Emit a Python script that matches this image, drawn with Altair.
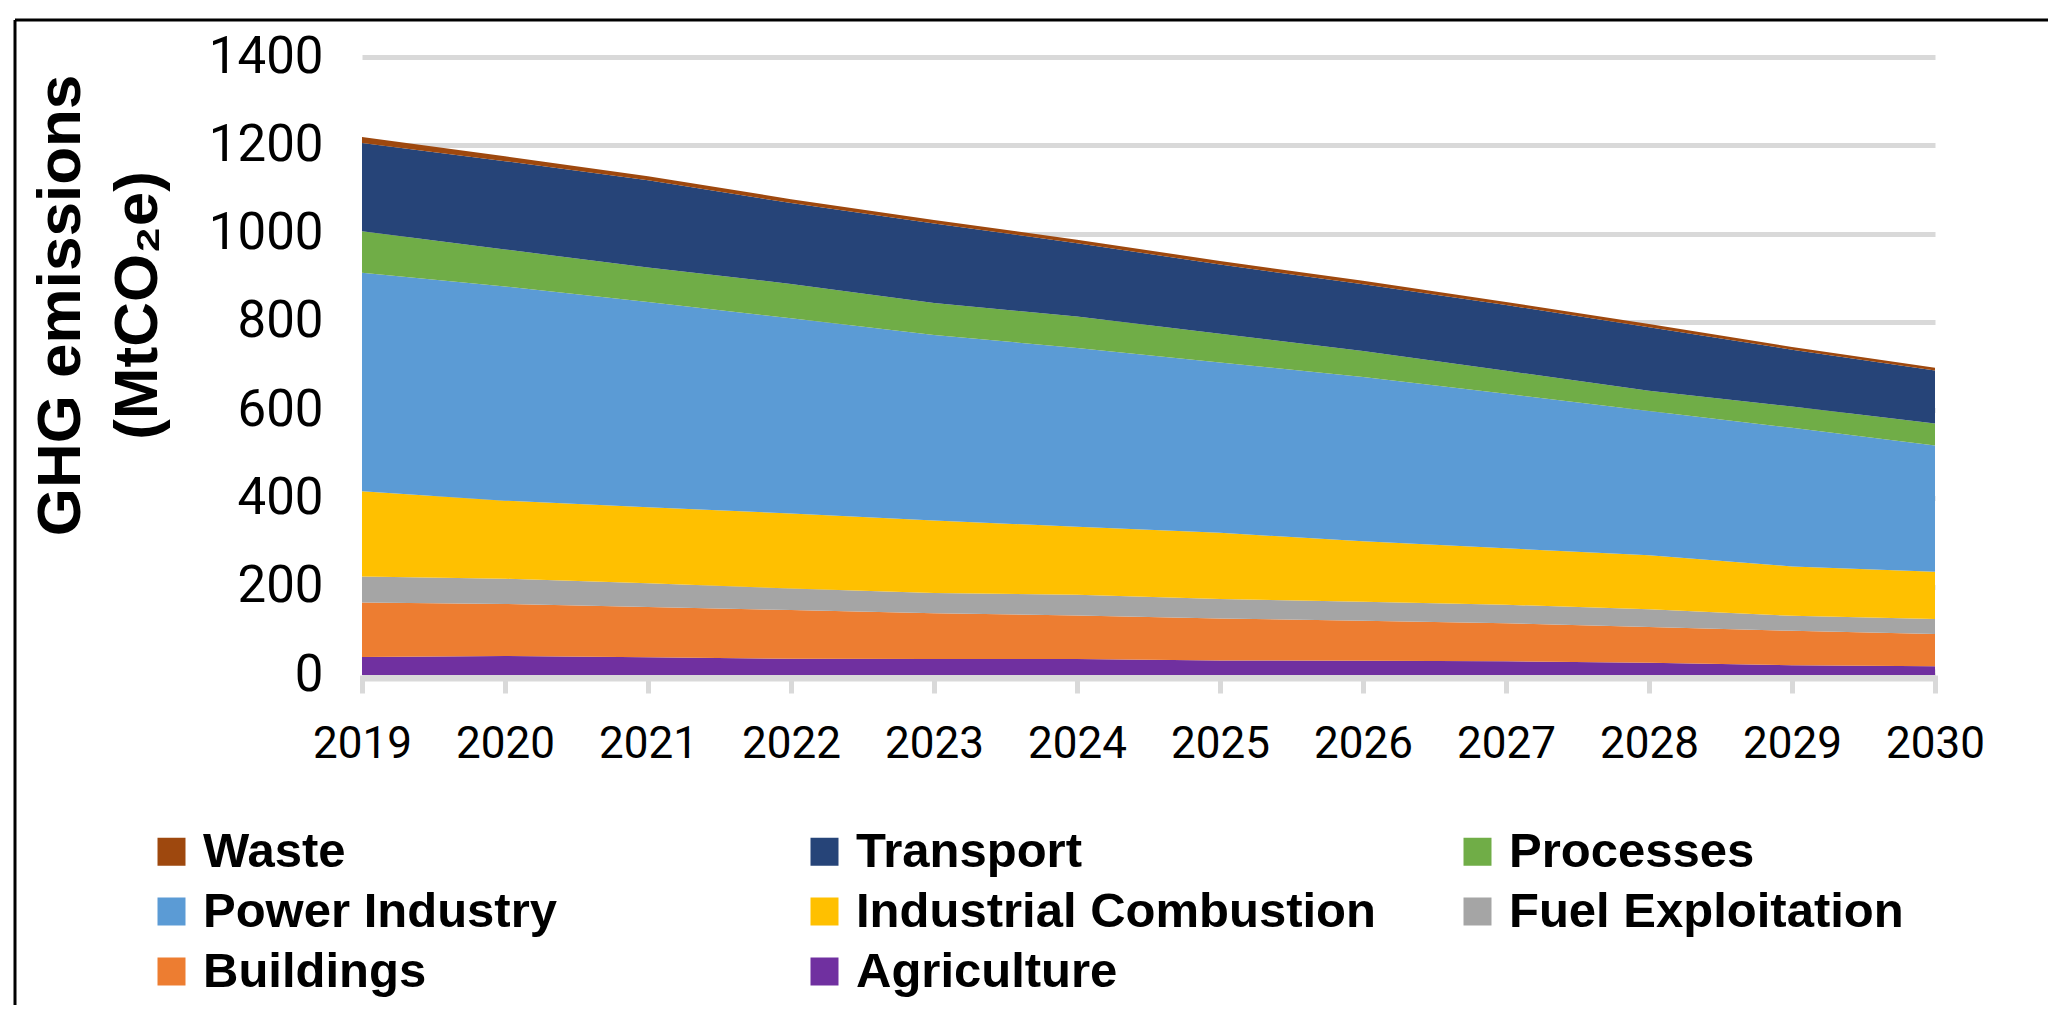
import altair as alt
import pandas as pd

years = [2019, 2020, 2021, 2022, 2023, 2024, 2025, 2026, 2027, 2028, 2029, 2030]

# legend order (as shown) and colours
sectors = ["Waste", "Transport", "Processes", "Power Industry",
           "Industrial Combustion", "Fuel Exploitation", "Buildings", "Agriculture"]
colors = ["#9E480E", "#264478", "#70AD47", "#5B9BD5",
          "#FFC000", "#A5A5A5", "#ED7D31", "#7030A0"]

# stacking order bottom -> top
stack_order = ["Agriculture", "Buildings", "Fuel Exploitation", "Industrial Combustion",
               "Power Industry", "Processes", "Transport", "Waste"]

agriculture = [41, 43, 40, 37, 36, 36, 33, 32, 31, 28, 22, 20]
buildings = [123, 118, 114, 110, 104, 99, 95, 91, 86, 81, 78, 73]
fuel_exploitation = [59, 57, 54, 49, 46, 47, 44, 43, 42, 40, 34, 34]
industrial_combustion = [193, 177, 172, 170, 164, 154, 150, 137, 128, 122, 112, 107]
power_industry = [495, 485, 465, 442, 420, 405, 386, 372, 350, 327, 314, 286]
processes = [94, 84, 78, 78, 73, 71, 65, 59, 52, 46, 48, 50]
transport = [200, 200, 198, 183, 180, 166, 157, 151, 149, 144, 129, 120]
waste = [14, 11, 9, 9, 8, 8, 8, 8, 7, 7, 6, 6]

series = {
    "Agriculture": agriculture,
    "Buildings": buildings,
    "Fuel Exploitation": fuel_exploitation,
    "Industrial Combustion": industrial_combustion,
    "Power Industry": power_industry,
    "Processes": processes,
    "Transport": transport,
    "Waste": waste,
}

rows = []
for name, vals in series.items():
    for y, v in zip(years, vals):
        rows.append({"year": y, "sector": name, "value": v,
                     "ord": stack_order.index(name)})
df = pd.DataFrame(rows)

y_ticks = [0, 200, 400, 600, 800, 1000, 1200, 1400]

areas = alt.Chart(df).mark_area(opacity=1, strokeWidth=0).encode(
    x=alt.X("year:Q",
            scale=alt.Scale(domain=[2019, 2030], nice=False, zero=False),
            axis=alt.Axis(values=years, format="d", title=None, grid=False,
                          labelFont="Roboto", labelFontSize=44, labelColor="#000000",
                          labelFlush=False, labelPadding=29,
                          domainColor="#D9D9D9", domainWidth=12,
                          tickColor="#D9D9D9", tickWidth=5, tickSize=18)),
    y=alt.Y("value:Q", stack="zero",
            scale=alt.Scale(domain=[0, 1400], nice=False),
            axis=alt.Axis(values=y_ticks, format="d", title=["GHG emissions", "(MtCO₂e)"],
                          titleFont="Liberation Sans", titleFontSize=62,
                          titleFontWeight="bold", titleColor="#000000",
                          titleLineHeight=77, titleBaseline="alphabetic",
                          titleAngle=270, titleAlign="center",
                          titleX=-283, titleY=248,
                          labelFont="Roboto", labelFontSize=51, labelColor="#000000",
                          labelPadding=39, ticks=False, tickSize=0, domain=False,
                          grid=True, gridColor="#D9D9D9", gridWidth=5)),
    color=alt.Color("sector:N",
                    scale=alt.Scale(domain=sectors, range=colors),
                    legend=alt.Legend(orient="none", legendX=-215, legendY=770,
                                      direction="horizontal",
                                      columns=3, gridAlign="all", title=None,
                                      symbolType="square", symbolSize=784,
                                      symbolStrokeWidth=0, symbolOpacity=1,
                                      labelFont="Liberation Sans", labelFontSize=49,
                                      labelFontWeight="bold", labelColor="#000000",
                                      labelLimit=1000, labelOffset=7,
                                      columnPadding=77, rowPadding=10, padding=0)),
    order=alt.Order("ord:Q", sort="ascending"),
)

border_df = pd.DataFrame({"k": [0]})
top_border = alt.Chart(border_df).mark_rule(color="#000000", strokeWidth=3).encode(
    x=alt.value(-347), x2=alt.value(1800), y=alt.value(-37))
left_border = alt.Chart(border_df).mark_rule(color="#000000", strokeWidth=3).encode(
    x=alt.value(-347), y=alt.value(-37), y2=alt.value(1100))

chart = alt.layer(areas, top_border, left_border).properties(
    width=1573, height=618,
    autosize=alt.AutoSizeParams(type="none"),
    padding={"left": 354, "top": 49, "right": 113, "bottom": 330},
    background="#ffffff",
).configure_view(stroke=None)

chart.save("out.html", embed_options={"renderer": "svg", "actions": False})
